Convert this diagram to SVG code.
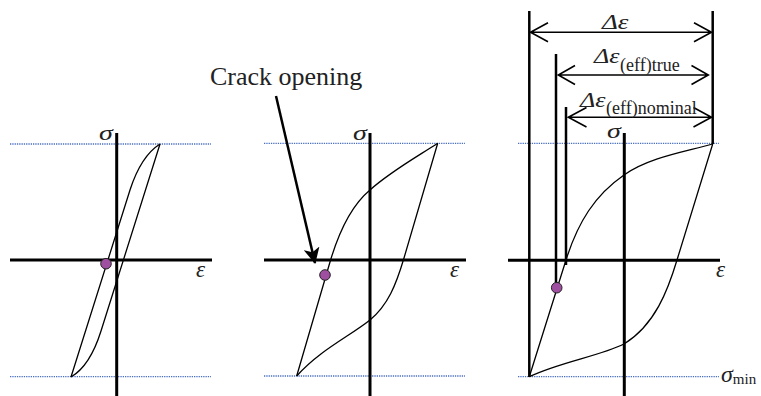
<svg xmlns="http://www.w3.org/2000/svg" width="761" height="396" viewBox="0 0 761 396">
<defs>
<marker id="stealth" markerUnits="userSpaceOnUse" viewBox="0 0 16 16" refX="15" refY="8" markerWidth="16" markerHeight="16" orient="auto">
<path d="M0,0 L16,8 L0,16 L4,8 z" fill="#000"/>
</marker>
</defs>
<style>
.axis{stroke:#000;stroke-width:3;fill:none}
.dot{stroke:#4a70c0;stroke-width:1.3;stroke-dasharray:1.3 1;fill:none}
.curve{stroke:#000;stroke-width:1.3;fill:none}
.dim{stroke:#000;stroke-width:2.5;fill:none}
.arr{stroke:#000;stroke-width:1.6;fill:none}
.pt{fill:#9f4f9f;stroke:#222;stroke-width:1}
.g{font-family:"Liberation Serif","Times New Roman",serif;font-style:italic;font-size:23px;fill:#222}
.s{font-family:"Liberation Serif","Times New Roman",serif;font-style:italic;font-size:20px;fill:#222}
.d{font-family:"Liberation Serif","Times New Roman",serif;font-style:italic;font-size:20px;fill:#222}
.sub{font-family:"Liberation Serif","Times New Roman",serif;font-size:18px;fill:#222}
.t{font-family:"Liberation Serif","Times New Roman",serif;font-size:26px;fill:#222}
.smin{font-family:"Liberation Serif","Times New Roman",serif;font-style:italic;font-size:24px;fill:#222}
.smin tspan{font-style:normal;font-size:15px}
</style>
<rect width="761" height="396" fill="#fff"/>

<g id="panel1">
<line class="dot" x1="10" y1="144" x2="211" y2="144"/>
<line class="dot" x1="10" y1="376.7" x2="211" y2="376.7"/>
<line class="axis" x1="10" y1="260" x2="212" y2="260"/>
<line class="axis" x1="116.7" y1="133" x2="116.7" y2="396"/>
<path class="curve" d="M71,377 L130,190 Q141,156 160,144"/>
<path class="curve" d="M160,144 L101,331 Q90,366 71,377"/>
<circle class="pt" cx="106" cy="263.7" r="5.3"/>
<text class="s" transform="translate(99,140) scale(1.4,1)">σ</text>
<text class="g" x="196" y="277">ε</text>
</g>

<g id="panel2">
<line class="dot" x1="264" y1="143.3" x2="465" y2="143.3"/>
<line class="dot" x1="264" y1="376" x2="465" y2="376"/>
<line class="axis" x1="264" y1="260" x2="466" y2="260"/>
<line class="axis" x1="370" y1="133" x2="370" y2="396"/>
<path class="curve" d="M296.7,376 L330,262 C340,228 352,205 370,190 C390,172 415,158 437.7,143.3"/>
<path class="curve" d="M437.7,143.3 L404,258 C396,285 388,305 370,320 C350,336 320,350 296.7,376"/>
<circle class="pt" cx="325" cy="275" r="5.3"/>
<text class="s" transform="translate(353,140) scale(1.4,1)">σ</text>
<text class="g" x="450" y="277">ε</text>
</g>

<g id="panel3">
<line class="dot" x1="518" y1="143.3" x2="719" y2="143.3"/>
<line class="dot" x1="518" y1="376.7" x2="719" y2="376.7"/>
<line class="axis" x1="508" y1="260.3" x2="720" y2="260.3"/>
<line class="axis" x1="624.3" y1="133" x2="624.3" y2="396"/>
<path class="curve" d="M529.3,376.7 L566,260 C578,222 595,195 624,175 C650,157 685,152 712.7,144"/>
<path class="curve" d="M712.7,144 L677,260 C668,290 655,325 624,344 C600,356 560,362 529.3,376.7"/>
<line class="dim" x1="529.3" y1="11" x2="529.3" y2="377"/>
<line class="dim" x1="712.7" y1="11" x2="712.7" y2="144"/>
<line class="dim" x1="556" y1="54" x2="556" y2="288"/>
<line class="dim" x1="566" y1="107" x2="566" y2="265"/>
<circle class="pt" cx="556.7" cy="287.7" r="5.3"/>
<text class="s" transform="translate(607,138) scale(1.4,1)">σ</text>
<text class="g" x="716" y="277">ε</text>
<text class="smin" x="721" y="382">σ<tspan dy="2">min</tspan></text>
</g>

<g id="dimensions">
<path class="arr" d="M530.5,32.3 L711.5,32.3 M548,22.8 L530.5,32.3 L548,41.8 M694,22.8 L711.5,32.3 L694,41.8"/>
<text class="d" transform="translate(602,28.5) scale(1.35,1)">Δε</text>
<path class="arr" d="M558.3,75 L708.3,75 M575,65.5 L558.3,75 L575,84.5 M691.5,65.5 L708.3,75 L691.5,84.5"/>
<text class="d" transform="translate(594,63) scale(1.3,1)">Δε</text>
<text class="sub" x="620" y="71">(eff)true</text>
<path class="arr" d="M568.3,117.3 L711.5,117.3 M586.5,107.5 L568.3,117.3 L586.5,127 M693.5,107.5 L711.5,117.3 L693.5,127"/>
<text class="d" transform="translate(580,107) scale(1.3,1)">Δε</text>
<text class="sub" x="606" y="114">(eff)nominal</text>
</g>

<g id="connectors">
<line x1="276" y1="96" x2="315" y2="263" stroke="#000" stroke-width="2.5" marker-end="url(#stealth)"/>
</g>
<g id="label">
<text class="t" x="210" y="85">Crack opening</text>
</g>
</svg>
